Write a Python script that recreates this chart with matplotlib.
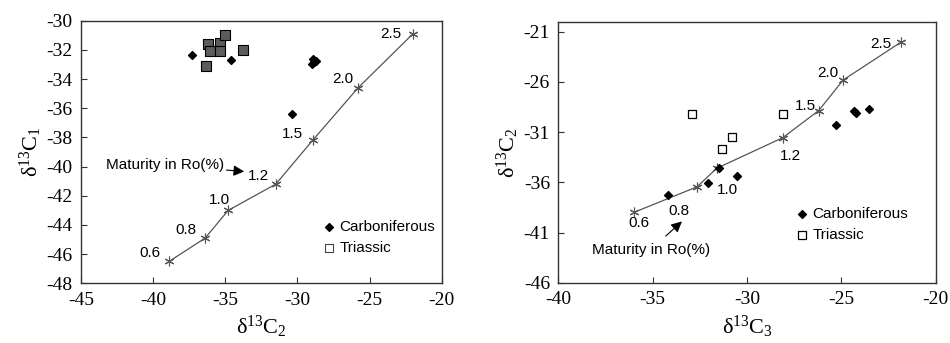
import matplotlib.pyplot as plt

plt.rcParams['axes.unicode_minus'] = False
plt.rcParams['mathtext.fontset'] = 'custom'
plt.rcParams['mathtext.rm'] = 'Liberation Serif'
plt.rcParams['mathtext.it'] = 'Liberation Serif:italic'

# maturity trend lines (Ro %)
ro_labels = ['0.6', '0.8', '1.0', '1.2', '1.5', '2.0', '2.5']
c2_trend = [-38.9, -36.4, -34.8, -31.5, -28.95, -25.8, -22.0]
c1_trend = [-46.5, -44.9, -43.0, -41.2, -38.2, -34.6, -30.9]
c3_trend = [-36.0, -32.65, -31.6, -28.1, -26.2, -24.9, -21.85]
c2_trend_r = [-39.0, -36.45, -34.6, -31.55, -28.85, -25.8, -22.05]

# left panel samples (d13C2 vs d13C1)
carb_c2 = [-37.3, -34.6, -30.35, -29.0, -28.85, -28.7, -28.9]
carb_c1 = [-32.35, -32.7, -36.4, -33.0, -32.8, -32.75, -32.65]
tri_c2 = [-36.2, -36.05, -35.35, -35.4, -35.0, -33.75, -36.35]
tri_c1 = [-31.6, -32.05, -31.55, -32.05, -31.0, -32.0, -33.1]

# right panel samples (d13C3 vs d13C2)
carb_c3 = [-34.2, -32.05, -31.5, -30.55, -25.3, -24.35, -24.2, -23.55]
carb_c2r = [-37.3, -36.05, -34.55, -35.35, -30.3, -28.85, -29.05, -28.7]
tri_c3 = [-32.9, -31.3, -30.8, -28.1]
tri_c2r = [-29.2, -32.7, -31.45, -29.2]

fig = plt.figure(figsize=(9.5, 3.43), dpi=100)
ax1 = fig.add_axes([0.0853, 0.174, 0.3797, 0.7656])
ax2 = fig.add_axes([0.5877, 0.1758, 0.3973, 0.761])

line_kw = dict(color='#555555', lw=0.9, marker=(6, 2, 0), ms=7, mew=0.8,
               mec='#555555')
sans = 'Liberation Sans'
serif = 'Liberation Serif'
lab_size = 11
leg_kw = dict(frameon=False, prop={'family': sans, 'size': 11}, loc='upper left',
              borderpad=0, borderaxespad=0, handlelength=1.0,
              handletextpad=0.2, labelspacing=0.45)

# left
ax1.plot(c2_trend, c1_trend, **line_kw)
ax1.scatter(tri_c2, tri_c1, marker='s', s=45, c='#5c5c5c', edgecolors='black',
            linewidths=0.8, label='Triassic', zorder=3)
ax1.scatter(carb_c2, carb_c1, marker='D', s=16, c='black', label='Carboniferous',
            zorder=3)
offs1 = [(-19, 8), (-19, 8), (-9, 10), (-17, 8), (-20, 6), (-15, 9), (-22, 0)]
for lab, x, y, o in zip(ro_labels, c2_trend, c1_trend, offs1):
    ax1.annotate(lab, (x, y), xytext=o, textcoords='offset pixels',
                 ha='center', va='center', fontsize=lab_size, family=sans)
ax1.annotate('Maturity in Ro(%)', xy=(-33.5, -40.35), xytext=(-43.3, -39.9),
             ha='left', va='center', fontsize=lab_size, family=sans,
             arrowprops=dict(arrowstyle='-|>', color='black', lw=0.8,
                             mutation_scale=16, shrinkA=0))
ax1.set_xlim(-45, -20)
ax1.set_ylim(-48, -30)
ax1.set_xticks(range(-45, -19, 5))
ax1.set_yticks(range(-48, -29, 2))
ax1.set_xlabel('δ$^{13}$C$_{2}$', fontsize=16, family=serif, labelpad=4)
ax1.set_ylabel('δ$^{13}$C$_{1}$', fontsize=16, family=serif, labelpad=2)
h, l = ax1.get_legend_handles_labels()
leg1 = ax1.legend(h[::-1], l[::-1], bbox_to_anchor=(0.665, 0.24), **leg_kw)
# the Triassic key is drawn hollow in the original
leg1.legend_handles[1].set_facecolor('white')
leg1.legend_handles[1].set_edgecolor('#444444')
leg1.legend_handles[1].set_sizes([30])

# right
ax2.plot(c3_trend, c2_trend_r, **line_kw)
ax2.scatter(tri_c3, tri_c2r, marker='s', s=30, c='white', edgecolors='black',
            linewidths=0.9, label='Triassic', zorder=3)
ax2.scatter(carb_c3, carb_c2r, marker='D', s=16, c='black', label='Carboniferous',
            zorder=3)
offs2 = [(5, -11), (-18, -24), (11, -22), (8, -18), (-13, 5), (-15, 7), (-20, -2)]
for lab, x, y, o in zip(ro_labels, c3_trend, c2_trend_r, offs2):
    ax2.annotate(lab, (x, y), xytext=o, textcoords='offset pixels',
                 ha='center', va='center', fontsize=lab_size, family=sans)
ax2.annotate('Maturity in Ro(%)', xy=(-33.45, -39.9), xytext=(-35.1, -42.7),
             ha='center', va='center', fontsize=lab_size, family=sans,
             arrowprops=dict(arrowstyle='-|>', color='black', lw=0.8,
                             mutation_scale=16, shrinkA=4, shrinkB=0))
ax2.set_xlim(-40, -20)
ax2.set_ylim(-46, -20)
ax2.set_xticks(range(-40, -19, 5))
ax2.set_yticks(range(-46, -20, 5))
ax2.set_xlabel('δ$^{13}$C$_{3}$', fontsize=16, family=serif, labelpad=4)
ax2.set_ylabel('δ$^{13}$C$_{2}$', fontsize=16, family=serif, labelpad=2)
h, l = ax2.get_legend_handles_labels()
ax2.legend(h[::-1], l[::-1], bbox_to_anchor=(0.625, 0.29), **leg_kw)

for ax in (ax1, ax2):
    for s in ax.spines.values():
        s.set_color('#333333')
        s.set_linewidth(1.0)
    ax.tick_params(direction='in', length=4, color='#333333', labelsize=14,
                   pad=6)
    for t in ax.get_xticklabels() + ax.get_yticklabels():
        t.set_family(serif)

fig.savefig('out.png', dpi=100)
